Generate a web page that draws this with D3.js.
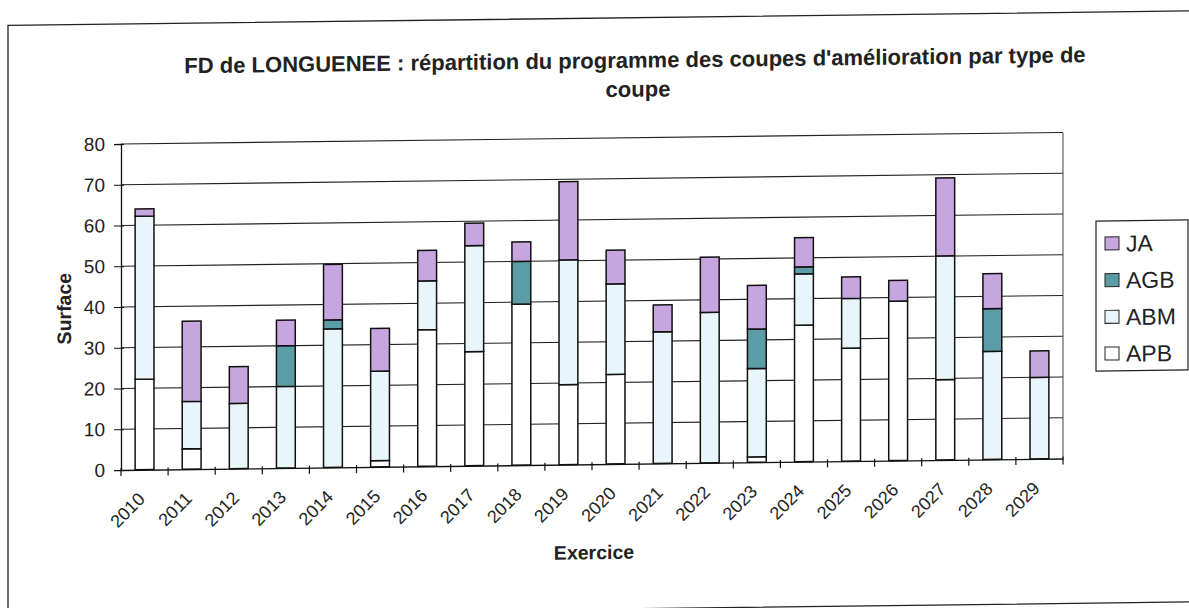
<!DOCTYPE html>
<html>
<head>
<meta charset="utf-8">
<script src="https://cdn.jsdelivr.net/npm/d3@7/dist/d3.min.js"></script>
<style>
  html, body { margin: 0; padding: 0; background: #fff; }
  svg { display: block; }
  text { font-family: "Liberation Sans", Arial, sans-serif; fill: #222; }
</style>
</head>
<body>
<svg id="chart" width="1189" height="608"></svg>
<script>
// Exercise years
const years = ["2010","2011","2012","2013","2014","2015","2016","2017","2018","2019",
               "2020","2021","2022","2023","2024","2025","2026","2027","2028","2029"];
// Surface per cut type (ha), stacked bottom to top: APB, ABM, AGB, JA
const APB = [22.2, 5, 0, 0, 0, 1.5, 33.5, 28, 39.5, 19.6, 22, 0, 0, 1.3, 33.5, 27.7, 39.1, 19.7, 0, 0];
const ABM = [40, 11.6, 16, 20, 34, 22, 12, 26, 0, 30.6, 22.2, 32.3, 36.9, 21.7, 12.6, 12.2, 0, 30.4, 26.5, 20];
const AGB = [0, 0, 0, 10, 2.2, 0, 0, 0, 10.5, 0, 0, 0, 0, 9.7, 1.7, 0, 0, 0, 10.5, 0];
const JA  = [1.8, 19.7, 9, 6.3, 13.6, 10.5, 7.5, 5.5, 4.8, 19.2, 8.3, 6.6, 13.6, 10.7, 7.2, 5.3, 5.1, 19.1, 8.6, 6.5];
const yTicks = [0, 10, 20, 30, 40, 50, 60, 70, 80];

const seriesKeys = ["APB", "ABM", "AGB", "JA"];
const colors = { APB: "#ffffff", ABM: "#e8f6fb", AGB: "#5b9ca6", JA: "#c7a5df" };
const legendOrder = ["JA", "AGB", "ABM", "APB"];

const rows = years.map((yr, i) => ({ year: yr, APB: APB[i], ABM: ABM[i], AGB: AGB[i], JA: JA[i] }));
const stacked = d3.stack().keys(seriesKeys)(rows);

const svg = d3.select("#chart");
// whole sheet is slightly sheared, as printed
const root = svg.append("g")
  .attr("transform", `translate(0, ${121 * Math.tan(0.7 * Math.PI / 180)}) skewY(-0.7)`);

// outer frame
root.append("rect")
  .attr("x", 8).attr("y", 24).attr("width", 1190).attr("height", 591)
  .attr("fill", "none").attr("stroke", "#222").attr("stroke-width", 1.3);

const plotLeft = 121, plotRight = 1063, plotTop = 144, plotBottom = 470;

const x = d3.scaleBand().domain(years).range([plotLeft, plotRight]).paddingInner(0.6).paddingOuter(0.3);
const xTick = d3.scaleBand().domain(years).range([plotLeft, plotRight]);
const y = d3.scaleLinear().domain([0, 80]).range([plotBottom, plotTop]);

// horizontal gridlines
root.append("g")
  .selectAll("line").data(yTicks.filter(t => t > 0)).join("line")
  .attr("x1", plotLeft).attr("x2", plotRight)
  .attr("y1", d => y(d)).attr("y2", d => y(d))
  .attr("stroke", "#222").attr("stroke-width", 1.1);

// right border of plot area
root.append("line")
  .attr("x1", plotRight).attr("x2", plotRight).attr("y1", plotTop).attr("y2", plotBottom)
  .attr("stroke", "#444").attr("stroke-width", 1);

// stacked bars
root.append("g")
  .selectAll("g").data(stacked).join("g")
  .attr("fill", d => colors[d.key])
  .selectAll("rect").data(d => d.filter(s => s[1] - s[0] > 0)).join("rect")
  .attr("x", d => x(d.data.year))
  .attr("width", x.bandwidth())
  .attr("y", d => y(d[1]))
  .attr("height", d => y(d[0]) - y(d[1]))
  .attr("stroke", "#111").attr("stroke-width", 1.5);

// y axis
const yAxis = root.append("g").attr("transform", `translate(${plotLeft},0)`)
  .call(d3.axisLeft(y).tickValues(yTicks).tickSize(7).tickPadding(9));
yAxis.select(".domain").attr("stroke", "#111").attr("stroke-width", 1.3);
yAxis.selectAll(".tick line").attr("stroke", "#111").attr("x2", -7).attr("x1", 3);
yAxis.selectAll(".tick text")
  .attr("font-size", 19).attr("fill", "#222")
  .style("font-family", "'Liberation Sans', Arial, sans-serif");

// x axis
const xAxis = root.append("g").attr("transform", `translate(0,${plotBottom})`)
  .call(d3.axisBottom(xTick).tickSize(0).tickFormat(""));
xAxis.select(".domain").attr("stroke", "#111").attr("stroke-width", 1.3);
// category boundary ticks
root.append("g")
  .selectAll("line").data(years.concat(["end"])).join("line")
  .attr("x1", (d, i) => plotLeft + i * xTick.bandwidth())
  .attr("x2", (d, i) => plotLeft + i * xTick.bandwidth())
  .attr("y1", plotBottom - 2).attr("y2", plotBottom + 6)
  .attr("stroke", "#111").attr("stroke-width", 1.2);
// rotated year labels
root.append("g")
  .selectAll("text").data(years).join("text")
  .attr("transform", d => `translate(${xTick(d) + xTick.bandwidth() / 2 - 3},${plotBottom + 26}) rotate(-45)`)
  .attr("text-anchor", "end")
  .attr("dy", "0.35em")
  .attr("font-size", 18)
  .text(d => d);

// axis titles
root.append("text")
  .attr("x", 594).attr("y", 565)
  .attr("text-anchor", "middle")
  .attr("font-size", 19.5).attr("font-weight", "bold")
  .text("Exercice");
root.append("text")
  .attr("transform", "translate(71,308) rotate(-90)")
  .attr("text-anchor", "middle")
  .attr("font-size", 19.5).attr("font-weight", "bold")
  .text("Surface");

// chart title
const title = root.append("text")
  .attr("text-anchor", "middle")
  .attr("font-size", 22).attr("font-weight", "bold");
title.append("tspan").attr("x", 635).attr("y", 74)
  .text("FD de LONGUENEE : répartition du programme des coupes d'amélioration par type de");
title.append("tspan").attr("x", 638).attr("y", 103).text("coupe");

// legend
const lg = root.append("g").attr("transform", "translate(1096,233)");
lg.append("rect").attr("width", 92).attr("height", 150)
  .attr("fill", "#fff").attr("stroke", "#222").attr("stroke-width", 1.2);
const items = lg.selectAll("g.item").data(legendOrder).join("g")
  .attr("class", "item")
  .attr("transform", (d, i) => `translate(9,${22.5 + i * 36.7})`);
items.append("rect")
  .attr("x", 0).attr("y", -6.5).attr("width", 14).attr("height", 13)
  .attr("fill", d => colors[d]).attr("stroke", "#222").attr("stroke-width", 1);
items.append("text")
  .attr("x", 21).attr("y", 0).attr("dy", "0.36em")
  .attr("font-size", 23)
  .text(d => d);
</script>
</body>
</html>
